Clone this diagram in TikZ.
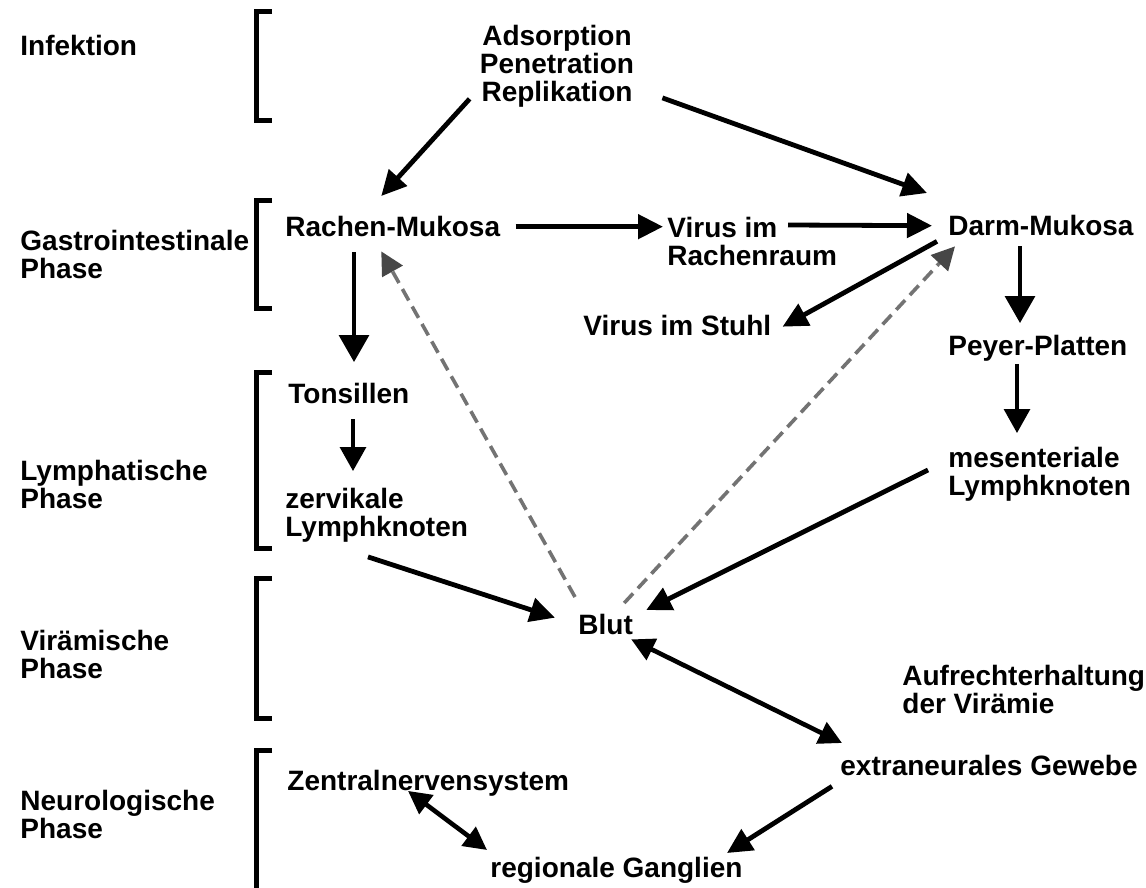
\documentclass[tikz,border=0pt]{standalone}
\usepackage{fontspec}
\setmainfont{Liberation Sans}
\usetikzlibrary{arrows.meta,calc}
\begin{document}
\begin{tikzpicture}[x=0.5pt,y=-0.5pt,
  lbl/.style={anchor=north west, inner sep=0pt, align=left, font=\fontsize{14}{14}\selectfont\bfseries},
  ctr/.style={anchor=north, inner sep=0pt, align=center, font=\fontsize{14}{14}\selectfont\bfseries},
  brk/.style={line width=2.5pt},
  arr/.style={line width=2.4pt, -{Triangle[length=12.5pt,width=12pt]}},
  darr/.style={line width=2.3pt, {Triangle[length=11.5pt,width=11.5pt]}-{Triangle[length=11.5pt,width=11.5pt]}},
  varr/.style={line width=1.6pt, -{Triangle[length=13.5pt,width=15pt]}},
  sarr/.style={line width=1.6pt, -{Triangle[length=12pt,width=13pt]}},
  dsh/.style={line width=1.8pt, draw=black!55, dash pattern=on 6.5pt off 3.5pt, -{Triangle[length=11.5pt,width=11.5pt,color=black!72]}}
]
\useasboundingbox (0,0) rectangle (1146,888);
\fill[white] (0,0) rectangle (1146,888);

% phase labels
\node[lbl] (inf) at (20,35) {Infektion};
\node[lbl] (gip) at (20,230) {Gastrointestinale\\Phase};
\node[lbl] (lym) at (20,460) {Lymphatische\\Phase};
\node[lbl] (vir) at (20,630) {Virämische\\Phase};
\node[lbl] (neu) at (20,790) {Neurologische\\Phase};

% brackets
\draw[brk] (272,12) -- (256,12) -- (256,121) -- (272,121);
\draw[brk] (272,200) -- (256,200) -- (256,308) -- (272,308);
\draw[brk] (272,372) -- (256,372) -- (256,548) -- (272,548);
\draw[brk] (272,578) -- (256,578) -- (256,718) -- (272,718);
\draw[brk] (272,750) -- (256,750) -- (256,900);

% nodes
\node[ctr] (ads) at (557,25) {Adsorption\\Penetration\\Replikation};
\node[lbl] (rm) at (285,216) {Rachen-Mukosa};
\node[lbl] (vrr) at (667,217) {Virus im\\Rachenraum};
\node[lbl] (dm) at (948,215) {Darm-Mukosa};
\node[lbl] (vs) at (583,315) {Virus im Stuhl};
\node[lbl] (pp) at (948,335) {Peyer-Platten};
\node[lbl] (ton) at (288,383) {Tonsillen};
\node[lbl] (zl) at (285,488) {zervikale\\Lymphknoten};
\node[lbl] (ml) at (948,447) {mesenteriale\\Lymphknoten};
\node[lbl] (blut) at (578,614) {Blut};
\node[lbl] (auf) at (902,665) {Aufrechterhaltung\\der Virämie};
\node[lbl] (ext) at (840,755) {extraneurales Gewebe};
\node[lbl] (zns) at (287,770) {Zentralnervensystem};
\node[lbl] (rg) at (490,857) {regionale Ganglien};

% connectors
\draw[arr] ($(ads.south west)+(-10,-9)$) -- ($(rm.north)+(-11.5,-20)$);
\draw[arr] ($(ads.south east)+(28,-10)$) -- ($(dm.north west)+(-21,-22)$);
\draw[arr] ($(rm.east)+(15,0)$) -- ($(vrr.west|-rm.east)+(-4,0)$);
\draw[arr] ($(vrr.north west)+(121,8)$) -- ($(dm.west)+(-16,0)$);
\draw[arr] ($(dm.south west)+(-11,5)$) -- ($(vs.east)+(11,1)$);
\draw[dsh] ($(blut.north east)+(-9,-11)$) -- ($(dm.south west)+(7,10)$);
\draw[dsh] ($(blut.north west)+(-3,-17)$) -- ($(rm.south)+(-11.5,14)$);
\draw[varr] ($(rm.south west)+(69,15)$) -- ($(ton.north west)+(66,-21)$);
\draw[sarr] ($(ton.south west)+(65,15)$) -- ($(zl.north west)+(68,-17)$);
\draw[varr] ($(dm.south west)+(72,10)$) -- ($(pp.north west)+(72,-12)$);
\draw[sarr] ($(pp.south west)+(69,2)$) -- ($(ml.north west)+(69,-14)$);
\draw[arr] ($(ml.north west)+(-20,23)$) -- ($(blut.north east)+(13,-4)$);
\draw[arr] ($(zl.south west)+(83,14)$) -- ($(blut.west)+(-23,-7)$);
\draw[darr] ($(blut.south east)+(-2,4)$) -- ($(ext.north west)+(2,-12)$);
\draw[arr] ($(ext.south west)+(-8,10)$) -- ($(rg.north west)+(237,-4)$);
\draw[darr] ($(zns.south west)+(121,-6)$) -- ($(rg.north west)+(-3,-7)$);
\end{tikzpicture}
\end{document}
